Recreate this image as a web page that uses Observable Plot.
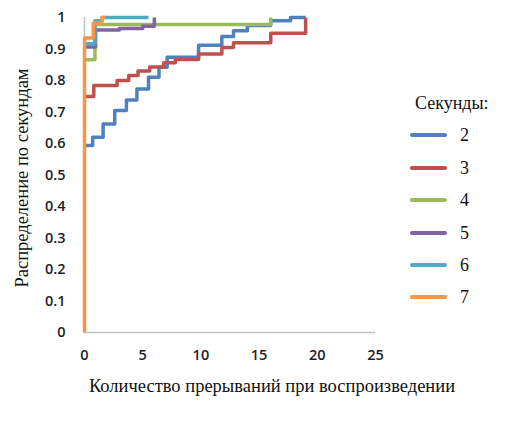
<!DOCTYPE html>
<html>
<head>
<meta charset="utf-8">
<script src="https://cdn.jsdelivr.net/npm/d3@7"></script>
<script src="https://cdn.jsdelivr.net/npm/@observablehq/plot@0.6"></script>
<style>
  html, body { margin: 0; padding: 0; background: #fff; }
  #wrap { position: relative; width: 524px; height: 432px; overflow: hidden; }
  .serif { font-family: "Liberation Serif", "Times New Roman", "DejaVu Serif", serif; color: #111; position: absolute; white-space: nowrap; }
  .sw { position: absolute; height: 4px; border-radius: 2px; }
</style>
</head>
<body>
<div id="wrap"></div>
<script>
// Series names (seconds) and colours
const seconds = ["2", "3", "4", "5", "6", "7"];
const colors = ["#4F81BD", "#C0504D", "#9BBB59", "#8064A2", "#4BACC6", "#F79646"];

// Step points (x = interruptions, y = cumulative share)
const x2 = [0, 0.7, 1.6, 2.6, 3.6, 4.5, 5.5, 6.4, 7.1, 9.8, 11.8, 12.8, 14, 16, 17.7, 19];
const y2 = [0.594, 0.62, 0.662, 0.705, 0.738, 0.773, 0.81, 0.842, 0.874, 0.912, 0.94, 0.958, 0.975, 0.99, 1.0, 1.0];

const x3 = [0, 0.8, 2.8, 3.8, 4.6, 5.6, 6.8, 7.8, 9.8, 11.8, 12.8, 16, 19];
const y3 = [0.749, 0.784, 0.8, 0.816, 0.83, 0.843, 0.856, 0.867, 0.884, 0.905, 0.92, 0.95, 1.0];

const x4 = [0, 0.9, 16];
const y4 = [0.866, 0.978, 1.0];

const x5 = [0, 0.95, 3, 5, 6];
const y5 = [0.906, 0.96, 0.965, 0.972, 1.0];

const x6 = [0, 0.9, 1.5, 5.5];
const y6 = [0.917, 0.99, 1.0, 1.0];

const x7 = [0, 0, 0.75, 1.5, 1.8];
const y7 = [0, 0.935, 0.982, 1.0, 1.0];

const xTicks = [0, 5, 10, 15, 20, 25];
const yTicks = [0, 0.1, 0.2, 0.3, 0.4, 0.5, 0.6, 0.7, 0.8, 0.9, 1];

const xTitle = "Количество прерываний при воспроизведении";
const yTitle = "Распределение по секундам";
const legendTitle = "Секунды:";

const seriesX = [x2, x3, x4, x5, x6, x7];
const seriesY = [y2, y3, y4, y5, y6, y7];
const rows = [];
seconds.forEach((s, i) => {
  seriesX[i].forEach((xv, j) => rows.push({s, x: xv, y: seriesY[i][j]}));
});

const chart = Plot.plot({
  width: 524,
  height: 432,
  marginLeft: 84,
  marginRight: 149,
  marginTop: 17,
  marginBottom: 100,
  style: {fontFamily: "'Open Sans', sans-serif", fontSize: "14.5px", fontWeight: "600", color: "#1d1d2b"},
  x: {domain: [0, 25], ticks: xTicks, tickSize: 0, tickPadding: 17, label: null},
  y: {domain: [0, 1], ticks: yTicks, tickSize: 0, tickPadding: 19, label: null,
      tickFormat: d => String(+d.toFixed(1))},
  color: {domain: seconds, range: colors},
  marks: [
    Plot.ruleY([0], {x1: 0, x2: 25, stroke: "#BFBFBF", strokeWidth: 1.5}),
    Plot.ruleX([0], {y1: 0, y2: 1, stroke: "#BFBFBF", strokeWidth: 1.5}),
    Plot.line(rows, {x: "x", y: "y", z: "s", stroke: "s", curve: "step-after",
      strokeWidth: 3.5, strokeLinejoin: "round", strokeLinecap: "butt"})
  ]
});

const wrap = document.getElementById("wrap");
chart.style.position = "absolute";
chart.style.left = "0px";
chart.style.top = "0px";
wrap.appendChild(chart);

const serifFamily = '"Liberation Serif", "Times New Roman", "DejaVu Serif", serif';
function addText(txt, left, top, transform, size) {
  const d = document.createElement("div");
  d.className = "serif";
  d.textContent = txt;
  d.style.fontFamily = serifFamily;
  d.style.fontSize = (size || 18) + "px";
  d.style.left = left + "px";
  d.style.top = top + "px";
  d.style.transform = transform;
  wrap.appendChild(d);
  return d;
}

// Axis titles
addText(xTitle, 272, 386, "translate(-50%, -50%)", 18.5);
addText(yTitle, 22, 178, "translate(-50%, -50%) rotate(-90deg)", 18.5);

// Legend
addText(legendTitle, 415, 103, "translateY(-50%)", 18);
const legendY = [135, 168, 200, 233, 265, 297];
seconds.forEach((s, i) => {
  const sw = document.createElement("div");
  sw.className = "sw";
  sw.style.background = colors[i];
  sw.style.left = "410px";
  sw.style.width = "37px";
  sw.style.top = (legendY[i] - 2) + "px";
  wrap.appendChild(sw);
  addText(s, 460, legendY[i], "translateY(-50%)", 18);
});
</script>
</body>
</html>
